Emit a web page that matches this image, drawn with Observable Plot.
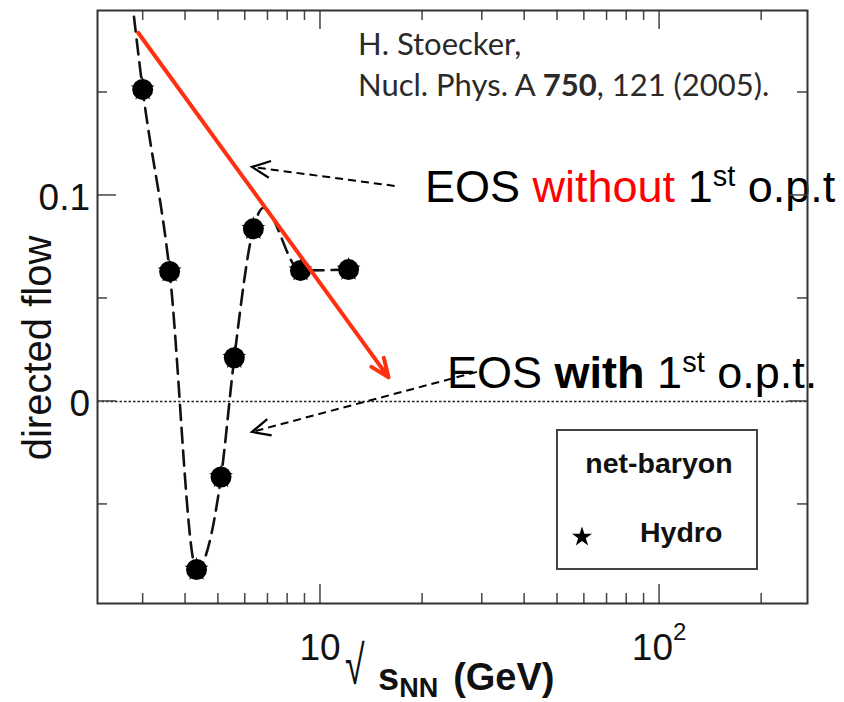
<!DOCTYPE html>
<html>
<head>
<meta charset="utf-8">
<script src="https://cdn.jsdelivr.net/npm/d3@7"></script>
<script src="https://cdn.jsdelivr.net/npm/@observablehq/plot@0.6"></script>
<style>
  html, body { margin: 0; padding: 0; background: #fff; }
  #chart svg { display: block; }
</style>
</head>
<body>
<div id="chart"></div>
<script>
// Hydro points: collision energy √s_NN (GeV) and directed flow
const energy = [2.99, 3.59, 4.31, 5.09, 5.57, 6.34, 8.73, 12.1];
const flow   = [0.1515, 0.0631, -0.0816, -0.0367, 0.0212, 0.0838, 0.0636, 0.064];

// Dashed guide through the hydro points (entry from above the frame and the peak near 7 GeV)
const curveEnergy = [2.72, 2.99, 3.59, 4.31, 5.09, 5.57, 6.34, 6.79, 8.73, 12.1];
const curveFlow   = [0.209, 0.1515, 0.0631, -0.0816, -0.0367, 0.0212, 0.0838, 0.094, 0.0636, 0.064];

// Trend without a first-order phase transition (red arrow)
const trendEnergy = [2.90, 15.87];
const trendFlow   = [0.179, 0.0117];

// Pointers from the two notes to the curves: [tail, tip]
const pointerEnergy = [[16.6, 6.30], [29.0, 6.30]];
const pointerFlow   = [[0.1044, 0.1136], [0.0141, -0.01505]];

// Note anchors (start of baseline)
const noteEnergy = [20.4, 23.7];
const noteFlow   = [0.0966, 0.0063];
const citeEnergy = 12.95;
const citeFlow   = [0.168, 0.148];

// Axis ticks
const xMajor = [10, 100];
const xMinor = [3, 4, 5, 6, 7, 8, 9, 20, 30, 40, 50, 60, 70, 80, 90, 200];
const xTickLabels = [["10", ""], ["10", "2"]];
const yMajor = [0, 0.1];
const yMinor = [-0.05, 0.05, 0.15];
const yTickLabels = ["0", "0.1"];

const points = energy.map((e, i) => ({e, v: flow[i]}));
const curve = curveEnergy.map((e, i) => ({e, v: curveFlow[i]}));
const trend = [{x1: trendEnergy[0], y1: trendFlow[0], x2: trendEnergy[1], y2: trendFlow[1]}];

const SANS = "'Liberation Sans', Arial, Helvetica, sans-serif";

function richText(parent, x, y, parts, attrs) {
  const t = parent.append("text").attr("x", x).attr("y", y)
    .attr("text-anchor", "start").style("white-space", "pre");
  for (const [k, val] of Object.entries(attrs)) t.attr(k, val);
  let cur = 0;
  for (const p of parts) {
    const s = p.shift || 0;
    const ts = t.append("tspan").text(p.text).attr("dy", s - cur);
    cur = s;
    if (p.size) ts.attr("font-size", p.size);
    if (p.weight) ts.attr("font-weight", p.weight);
    if (p.fill) ts.attr("fill", p.fill);
    if (p.dx) ts.attr("dx", p.dx);
  }
  return t;
}

// Ticks on all four sides, tick labels and axis titles
function axesMark(index, scales, values, dims) {
  const {x, y} = scales;
  const left = dims.marginLeft, right = dims.width - dims.marginRight;
  const top = dims.marginTop, bottom = dims.height - dims.marginBottom;
  const g = d3.create("svg:g");
  const ticks = g.append("g").attr("stroke", "#444").attr("stroke-width", 1.5);
  const major = 19, minor = 10;
  for (const [vals, len] of [[xMajor, major], [xMinor, minor]]) {
    for (const v of vals) {
      const px = x(v);
      ticks.append("line").attr("x1", px).attr("x2", px).attr("y1", bottom).attr("y2", bottom - len);
      ticks.append("line").attr("x1", px).attr("x2", px).attr("y1", top).attr("y2", top + len);
    }
  }
  for (const [vals, len] of [[yMajor, major], [yMinor, minor]]) {
    for (const v of vals) {
      const py = y(v);
      ticks.append("line").attr("y1", py).attr("y2", py).attr("x1", left).attr("x2", left + len);
      ticks.append("line").attr("y1", py).attr("y2", py).attr("x1", right).attr("x2", right - len);
    }
  }
  const labels = g.append("g").attr("fill", "#111").attr("font-family", SANS).attr("font-size", 37);
  yMajor.forEach((v, i) => {
    labels.append("text").attr("x", left - 7).attr("y", y(v) + 15)
      .attr("text-anchor", "end").text(yTickLabels[i]);
  });
  xMajor.forEach((v, i) => {
    const [base, sup] = xTickLabels[i];
    const parts = [{text: base}];
    if (sup) parts.push({text: sup, size: 24, shift: -20});
    richText(labels, x(v), bottom + 57, parts, {"text-anchor": "middle"});
  });
  // y title
  labels.append("text")
    .attr("transform", `translate(${left - 46},${bottom - 255}) rotate(-90)`)
    .attr("text-anchor", "middle").attr("font-size", 40).text("directed flow");
  // x title: √ s_NN (GeV)
  labels.append("text")
    .attr("transform", `translate(${left + 248},${bottom + 81}) scale(0.85,1.3)`)
    .attr("text-anchor", "start").attr("font-size", 42).text("√");
  richText(labels, left + 281, bottom + 87, [
    {text: "s", weight: "bold", size: 38},
    {text: "NN", weight: "bold", size: 27, shift: 7},
    {text: "(GeV)", weight: "bold", size: 38, shift: 0, dx: 15}
  ], {});
  return g.node();
}

// Notes, pointers, citation and the legend box
function notesMark(index, scales, values, dims) {
  const {x, y} = scales;
  const right = dims.width - dims.marginRight;
  const bottom = dims.height - dims.marginBottom;
  const g = d3.create("svg:g").attr("text-anchor", "start");

  // dashed pointers with solid open heads
  pointerEnergy.forEach((pe, i) => {
    const x0 = x(pe[0]), y0 = y(pointerFlow[i][0]);
    const x1 = x(pe[1]), y1 = y(pointerFlow[i][1]);
    g.append("line").attr("x1", x0).attr("y1", y0).attr("x2", x1).attr("y2", y1)
      .attr("stroke", "#000").attr("stroke-width", 2).attr("stroke-dasharray", "8,5");
    const a = Math.atan2(y0 - y1, x0 - x1), w = 20, h = 25 * Math.PI / 180;
    g.append("path")
      .attr("d", `M${x1 + w * Math.cos(a - h)},${y1 + w * Math.sin(a - h)}L${x1},${y1}L${x1 + w * Math.cos(a + h)},${y1 + w * Math.sin(a + h)}`)
      .attr("fill", "none").attr("stroke", "#000").attr("stroke-width", 2.2);
  });

  const notes = g.append("g").attr("font-family", SANS).attr("font-size", 45).attr("fill", "#000");
  richText(notes, x(noteEnergy[0]), y(noteFlow[0]), [
    {text: "EOS "},
    {text: "without", fill: "#ff0000"},
    {text: " 1"},
    {text: "st", size: 29, shift: -16},
    {text: " o.p.t", shift: 0}
  ], {});
  richText(notes, x(noteEnergy[1]), y(noteFlow[1]), [
    {text: "EOS "},
    {text: "with", weight: "bold"},
    {text: " 1"},
    {text: "st", size: 29, shift: -16},
    {text: " o.p.t.", shift: 0}
  ], {});

  const cite = g.append("g").attr("font-family", "Lato, 'Open Sans', sans-serif")
    .attr("font-size", 31).attr("fill", "#2a2a2a");
  richText(cite, x(citeEnergy), y(citeFlow[0]), [{text: "H. Stoecker,"}], {});
  richText(cite, x(citeEnergy), y(citeFlow[1]), [
    {text: "Nucl. Phys. A "},
    {text: "750", weight: "bold"},
    {text: ", 121 (2005)."}
  ], {});

  // legend box
  const bw = 200, bh = 139;
  const bx = right - 50 - bw, by = bottom - 34 - bh;
  const lg = g.append("g").attr("font-family", SANS).attr("font-weight", "bold").attr("font-size", 28.5).attr("fill", "#111");
  lg.append("rect").attr("x", bx).attr("y", by).attr("width", bw).attr("height", bh)
    .attr("fill", "#fff").attr("stroke", "#444").attr("stroke-width", 2);
  lg.append("text").attr("x", bx + 102).attr("y", by + 43).attr("text-anchor", "middle").text("net-baryon");
  lg.append("path").attr("transform", `translate(${bx + 25},${by + 107})`)
    .attr("d", d3.symbol(d3.symbolStar, 124)()).attr("fill", "#000");
  lg.append("text").attr("x", bx + 83).attr("y", by + 112).attr("text-anchor", "start").text("Hydro");
  return g.node();
}

const chart = Plot.plot({
  width: 844,
  height: 702,
  marginLeft: 97,
  marginRight: 37,
  marginTop: 10,
  marginBottom: 99,
  x: {type: "log", domain: [2.2, 273], axis: null},
  y: {domain: [-0.0981, 0.1898], axis: null},
  style: {background: "#fff", fontFamily: SANS, overflow: "visible"},
  marks: [
    Plot.ruleY([0], {stroke: "#222", strokeWidth: 1.5, strokeDasharray: "2.5,2"}),
    Plot.line(curve, {x: "e", y: "v", curve: "monotone-x", stroke: "#111", strokeWidth: 2.6, strokeDasharray: "15,8", clip: true}),
    Plot.dot(points, {x: "e", y: "v", symbol: "star", r: 7.5, fill: "#000"}),
    Plot.dot(points, {x: "e", y: "v", r: 10.5, fill: "#000"}),
    Plot.arrow(trend, {x1: "x1", y1: "y1", x2: "x2", y2: "y2", stroke: "#ff3010", strokeWidth: 4, headLength: 7.5, headAngle: 45}),
    notesMark,
    axesMark,
    Plot.frame({stroke: "#333", strokeWidth: 2})
  ]
});
document.getElementById("chart").appendChild(chart);
</script>
</body>
</html>
